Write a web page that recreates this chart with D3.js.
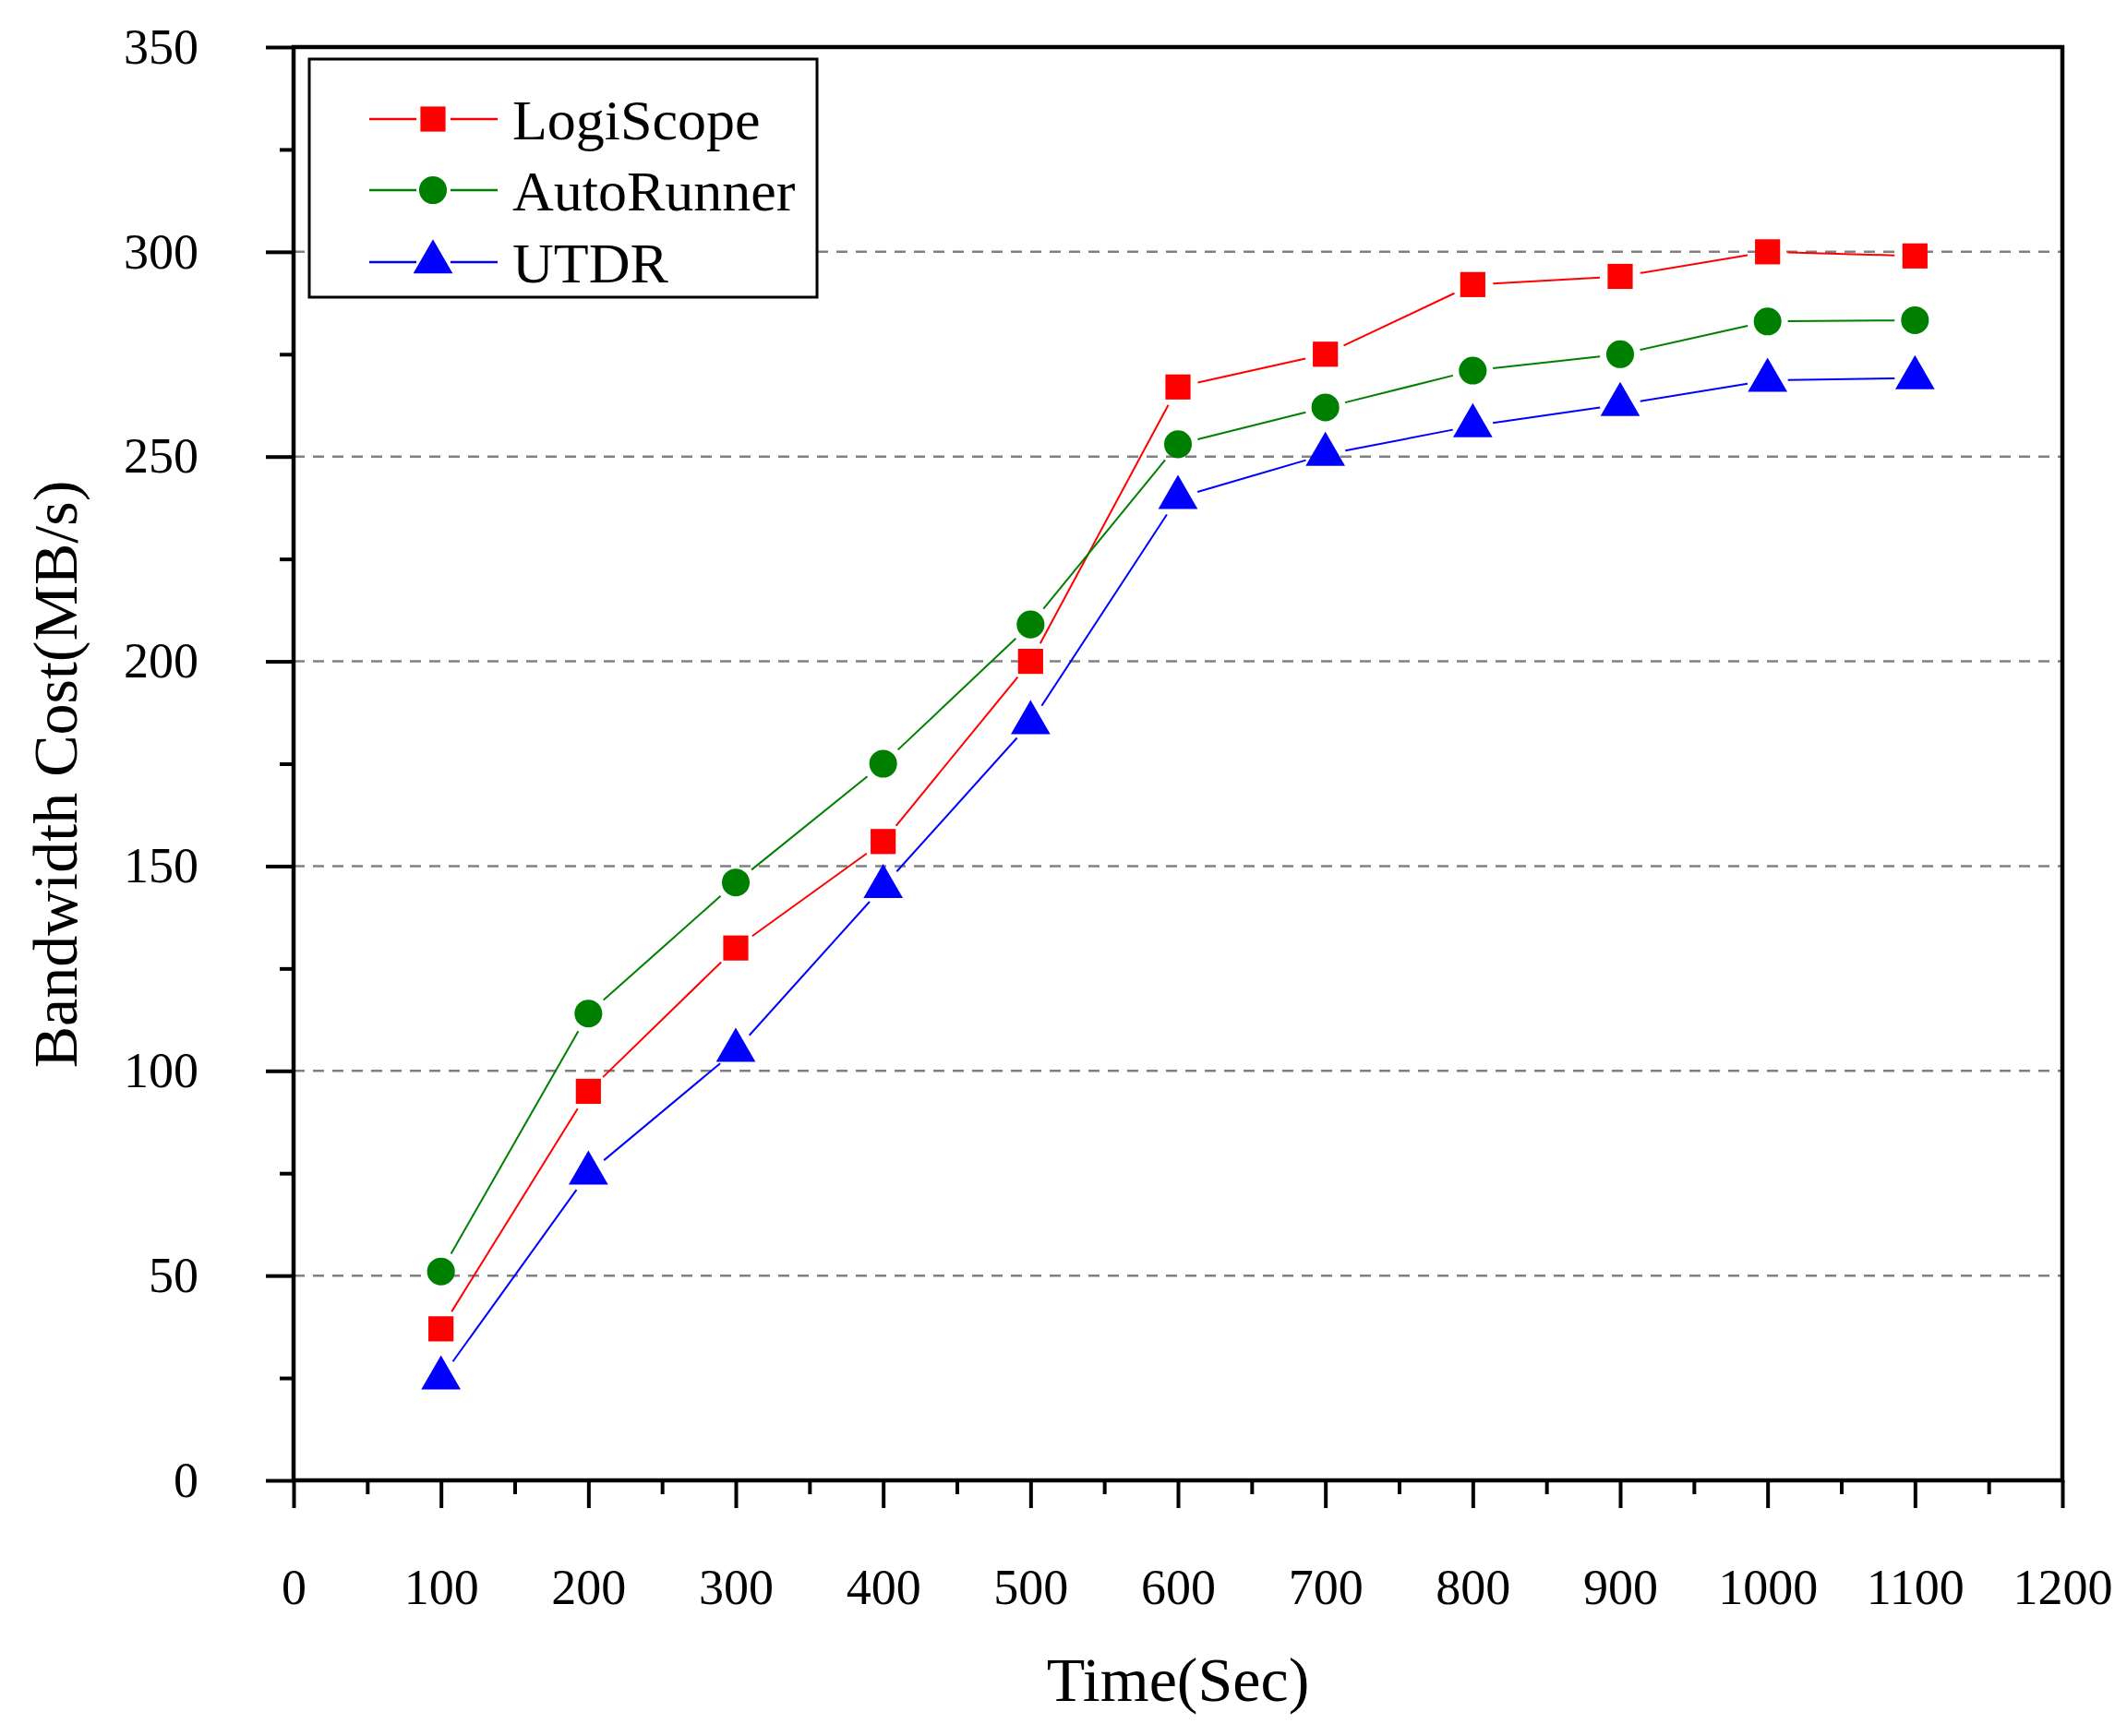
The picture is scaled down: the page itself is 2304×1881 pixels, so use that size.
<!DOCTYPE html>
<html>
<head>
<meta charset="utf-8">
<script src="https://cdn.jsdelivr.net/npm/d3@7"></script>
<style>
  body { margin: 0; background: #fff; }
  svg { display: block; }
  text { font-family: "Liberation Serif", "Times New Roman", serif; fill: #000; }
</style>
</head>
<body>
<div id="chart"></div>
<script>
// data
var times = [100, 200, 300, 400, 500, 600, 700, 800, 900, 1000, 1100];
var logiScope = [37, 95, 130, 156, 200, 267, 275, 292, 294, 300, 299];
var autoRunner = [51, 114, 146, 175, 209, 253, 262, 271, 275, 283, 283.3];
var utdr = [25, 75, 105, 145, 185, 240, 250.5, 257.5, 262.7, 268.6, 269.2];
var seriesNames = ["LogiScope", "AutoRunner", "UTDR"];
var xTicks = [0, 100, 200, 300, 400, 500, 600, 700, 800, 900, 1000, 1100, 1200];
var yTicks = [0, 50, 100, 150, 200, 250, 300, 350];
var gridValues = [50, 100, 150, 200, 250, 300];

var width = 2304, height = 1881;
var plotLeft = 318, plotRight = 2234, plotTop = 51, plotBottom = 1604;

var series = [
  { name: seriesNames[0], values: logiScope, color: "#ff0000", symbol: d3.symbolSquare, size: 740 },
  { name: seriesNames[1], values: autoRunner, color: "#008000", symbol: d3.symbolCircle, size: 710 },
  { name: seriesNames[2], values: utdr, color: "#0000ff", symbol: d3.symbolTriangle, size: 790 }
];

var svg = d3.select("#chart").append("svg")
  .attr("width", width)
  .attr("height", height);

svg.append("rect").attr("width", width).attr("height", height).attr("fill", "#fff");

var x = d3.scaleLinear().domain([0, 1200]).range([plotLeft, plotRight]);
var y = d3.scaleLinear().domain([0, 350]).range([plotBottom, plotTop]);

// dashed grid
svg.append("g").selectAll("line")
  .data(gridValues)
  .enter().append("line")
  .attr("x1", plotLeft).attr("x2", plotRight)
  .attr("y1", function(d) { return y(d); })
  .attr("y2", function(d) { return y(d); })
  .attr("stroke", "#808080")
  .attr("stroke-width", 2.5)
  .attr("stroke-dasharray", "12,9");

// lines with a small gap around each marker (Origin style)
var gap = 22;
series.forEach(function(s) {
  var pts = s.values.map(function(v, i) { return [x(times[i]), y(v)]; });
  var g = svg.append("g");
  for (var i = 0; i < pts.length - 1; i++) {
    var p = pts[i], q = pts[i + 1];
    var dx = q[0] - p[0], dy = q[1] - p[1];
    var len = Math.sqrt(dx * dx + dy * dy);
    if (len <= 2 * gap) continue;
    var ux = dx / len, uy = dy / len;
    g.append("line")
      .attr("x1", p[0] + ux * gap).attr("y1", p[1] + uy * gap)
      .attr("x2", q[0] - ux * gap).attr("y2", q[1] - uy * gap)
      .attr("stroke", s.color)
      .attr("stroke-width", 2);
  }
});

// markers
series.forEach(function(s) {
  svg.append("g").selectAll("path")
    .data(s.values)
    .enter().append("path")
    .attr("d", d3.symbol().type(s.symbol).size(s.size))
    .attr("transform", function(d, i) { return "translate(" + x(times[i]) + "," + y(d) + ")"; })
    .attr("fill", s.color);
});

// axes: minor ticks, then major ticks with labels
var xMinor = d3.range(50, 1200, 100);
var yMinor = d3.range(25, 350, 50);

var xAxisMinor = svg.append("g")
  .attr("transform", "translate(0," + plotBottom + ")")
  .call(d3.axisBottom(x).tickValues(xMinor).tickSize(15).tickFormat(""));
var xAxis = svg.append("g")
  .attr("transform", "translate(0," + plotBottom + ")")
  .call(d3.axisBottom(x).tickValues(xTicks).tickSize(30).tickPadding(66).tickFormat(d3.format("d")));
var yAxisMinor = svg.append("g")
  .attr("transform", "translate(" + plotLeft + ",0)")
  .call(d3.axisLeft(y).tickValues(yMinor).tickSize(15).tickFormat(""));
var yAxis = svg.append("g")
  .attr("transform", "translate(" + plotLeft + ",0)")
  .call(d3.axisLeft(y).tickValues(yTicks).tickSize(30).tickPadding(73).tickFormat(d3.format("d")));

[xAxisMinor, xAxis, yAxisMinor, yAxis].forEach(function(a) {
  a.select(".domain").remove();
  a.selectAll(".tick line").attr("stroke", "#000").attr("stroke-width", 4);
  a.selectAll(".tick text")
    .attr("font-family", "Liberation Serif, Times New Roman, serif")
    .attr("font-size", 54)
    .attr("fill", "#000");
});

// frame
svg.append("rect")
  .attr("x", plotLeft).attr("y", plotTop)
  .attr("width", plotRight - plotLeft).attr("height", plotBottom - plotTop)
  .attr("fill", "none")
  .attr("stroke", "#000")
  .attr("stroke-width", 4.5);

// axis titles
svg.append("text")
  .attr("x", (plotLeft + plotRight) / 2)
  .attr("y", 1843)
  .attr("text-anchor", "middle")
  .attr("font-size", 68)
  .text("Time(Sec)");

svg.append("text")
  .attr("transform", "translate(83,839) rotate(-90)")
  .attr("text-anchor", "middle")
  .attr("font-size", 68)
  .text("Bandwidth Cost(MB/s)");

// legend
var legend = svg.append("g");
legend.append("rect")
  .attr("x", 335).attr("y", 64)
  .attr("width", 550).attr("height", 258)
  .attr("fill", "#fff")
  .attr("stroke", "#000")
  .attr("stroke-width", 3);

var rowY = [129, 206, 284];
series.forEach(function(s, i) {
  var row = legend.append("g").attr("transform", "translate(0," + rowY[i] + ")");
  // two short line pieces, broken around the marker
  [[400, 451], [488, 539]].forEach(function(seg) {
    row.append("line")
      .attr("x1", seg[0]).attr("x2", seg[1])
      .attr("y1", 0).attr("y2", 0)
      .attr("stroke", s.color).attr("stroke-width", 2.5);
  });
  row.append("path")
    .attr("d", d3.symbol().type(s.symbol).size(s.size))
    .attr("transform", "translate(469,0)")
    .attr("fill", s.color);
  row.append("text")
    .attr("x", 555).attr("y", 22)
    .attr("font-size", 62)
    .text(s.name);
});
</script>
</body>
</html>
